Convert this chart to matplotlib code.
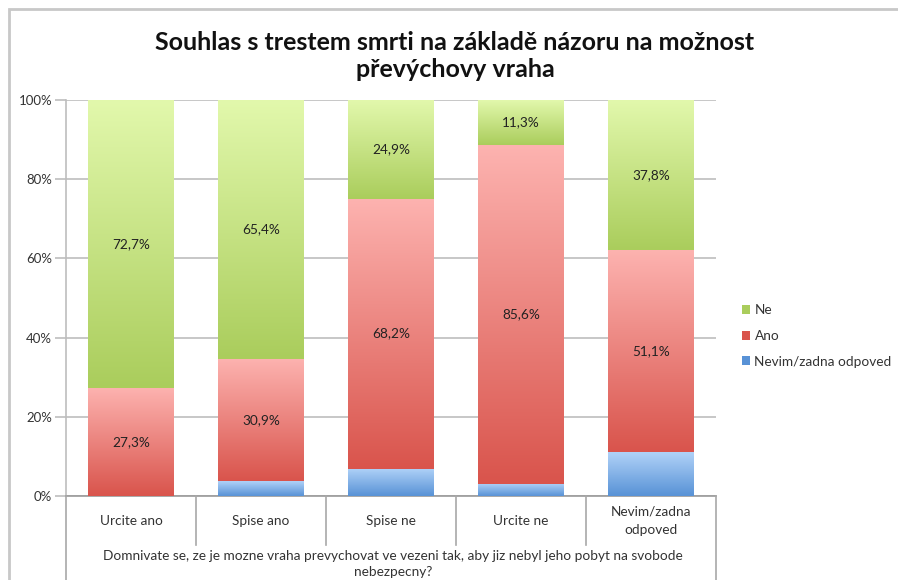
import numpy as np
import matplotlib.pyplot as plt
from matplotlib.patches import Patch, Rectangle
from matplotlib.colors import LinearSegmentedColormap

plt.rcParams['font.family'] = ['Lato', 'DejaVu Sans']

# data (percent)
kategorie = ['Urcite ano', 'Spise ano', 'Spise ne', 'Urcite ne', 'Nevim/zadna\nodpoved']
nevim = [0.0, 3.7, 6.9, 3.1, 11.1]
ano = [27.3, 30.9, 68.2, 85.6, 51.1]
ne = [72.7, 65.4, 24.9, 11.3, 37.8]
ytick_labels = ['0%', '20%', '40%', '60%', '80%', '100%']

# (svetla nahore, tmava dole)
barvy = {
    'Ne': ('#e2f8ac', '#aacd5c'),
    'Ano': ('#fdb3b0', '#d9544c'),
    'Nevim/zadna odpoved': ('#b0d2f8', '#5892d6'),
}

W, H = 898, 580
fig = plt.figure(figsize=(W / 100, H / 100), dpi=100)
ax = fig.add_axes([66 / W, (H - 496) / H, 650 / W, 396 / H])

x = np.arange(len(kategorie))
sirka = 0.66


def gradient_bars(hodnoty, spodek, nazev):
    horni, dolni = barvy[nazev]
    cmap = LinearSegmentedColormap.from_list(nazev, [dolni, horni])
    bars = ax.bar(x, hodnoty, sirka, bottom=spodek, color=dolni, label=nazev, zorder=2)
    grad = np.linspace(0, 1, 256).reshape(-1, 1)
    for b in bars:
        if b.get_height() <= 0:
            continue
        x0, y0 = b.get_x(), b.get_y()
        ax.imshow(grad, cmap=cmap, origin='lower', aspect='auto', zorder=3,
                  extent=(x0, x0 + b.get_width(), y0, y0 + b.get_height()),
                  interpolation='bicubic')
    return bars


spodek = np.zeros(len(x))
gradient_bars(nevim, spodek, 'Nevim/zadna odpoved')
spodek = spodek + np.array(nevim)
gradient_bars(ano, spodek, 'Ano')
for i, v in enumerate(ano):
    ax.text(x[i], spodek[i] + v / 2, f'{v:.1f}%'.replace('.', ','),
            ha='center', va='center', fontsize=9.8, color='#222222', zorder=5)
spodek = spodek + np.array(ano)
gradient_bars(ne, spodek, 'Ne')
for i, v in enumerate(ne):
    ax.text(x[i], spodek[i] + v / 2, f'{v:.1f}%'.replace('.', ','),
            ha='center', va='center', fontsize=9.8, color='#222222', zorder=5)

ax.set_xlim(-0.5, len(x) - 0.5)
ax.set_ylim(0, 100)
ax.set_yticks(np.arange(0, 101, 20))
ax.set_yticklabels(ytick_labels, fontsize=9.5, color='#333333')
ax.yaxis.grid(True, color='#bdbdbd', lw=1.2, zorder=0)
ax.set_axisbelow(True)
ax.tick_params(axis='y', length=8, color='#bdbdbd', width=1.2, pad=2)
ax.set_xticks([])
for s in ['top', 'right']:
    ax.spines[s].set_visible(False)
ax.spines['left'].set_color('#bdbdbd')
ax.spines['left'].set_linewidth(1.2)
ax.spines['bottom'].set_color('#9a9a9a')
ax.spines['bottom'].set_linewidth(1.2)

# tabulka kategorii pod osou
def fy(py):
    return (H - py) / H

for i in range(len(x) + 1):
    xp = (66 + 130 * i) / W
    konec = 580 if i in (0, len(x)) else 545
    fig.add_artist(plt.Line2D([xp, xp], [fy(496), fy(konec)], color='#a8a8a8', lw=1.2))
for i, k in enumerate(kategorie):
    fig.text((131 + 130 * i) / W, fy(521), k, ha='center', va='center',
             fontsize=9.8, color='#333333', linespacing=1.6)
fig.text(393 / W, fy(564), 'Domnivate se, ze je mozne vraha prevychovat ve vezeni tak, aby jiz nebyl jeho pobyt na svobode\nnebezpecny?',
         ha='center', va='center', fontsize=9.8, color='#333333', linespacing=1.4)

fig.text(455 / W, fy(56), 'Souhlas s trestem smrti na základě názoru na možnost\npřevýchovy vraha',
         ha='center', va='center', fontsize=18, fontweight='bold', color='#111111', linespacing=1.25)

handles = [Patch(facecolor=barvy[n][1], label=n) for n in ['Ne', 'Ano', 'Nevim/zadna odpoved']]
fig.legend(handles=handles, loc='center left', bbox_to_anchor=(730 / W, fy(336)), frameon=False,
           fontsize=9.8, handlelength=0.6, handleheight=0.6, handletextpad=0.3, labelspacing=1.0,
           labelcolor='#333333')

fig.add_artist(Rectangle((9 / W, -0.1), 1.0, fy(9) + 0.1, transform=fig.transFigure,
                         fill=False, edgecolor='#c8c8c8', lw=2))

fig.savefig('out.png', dpi=100)
